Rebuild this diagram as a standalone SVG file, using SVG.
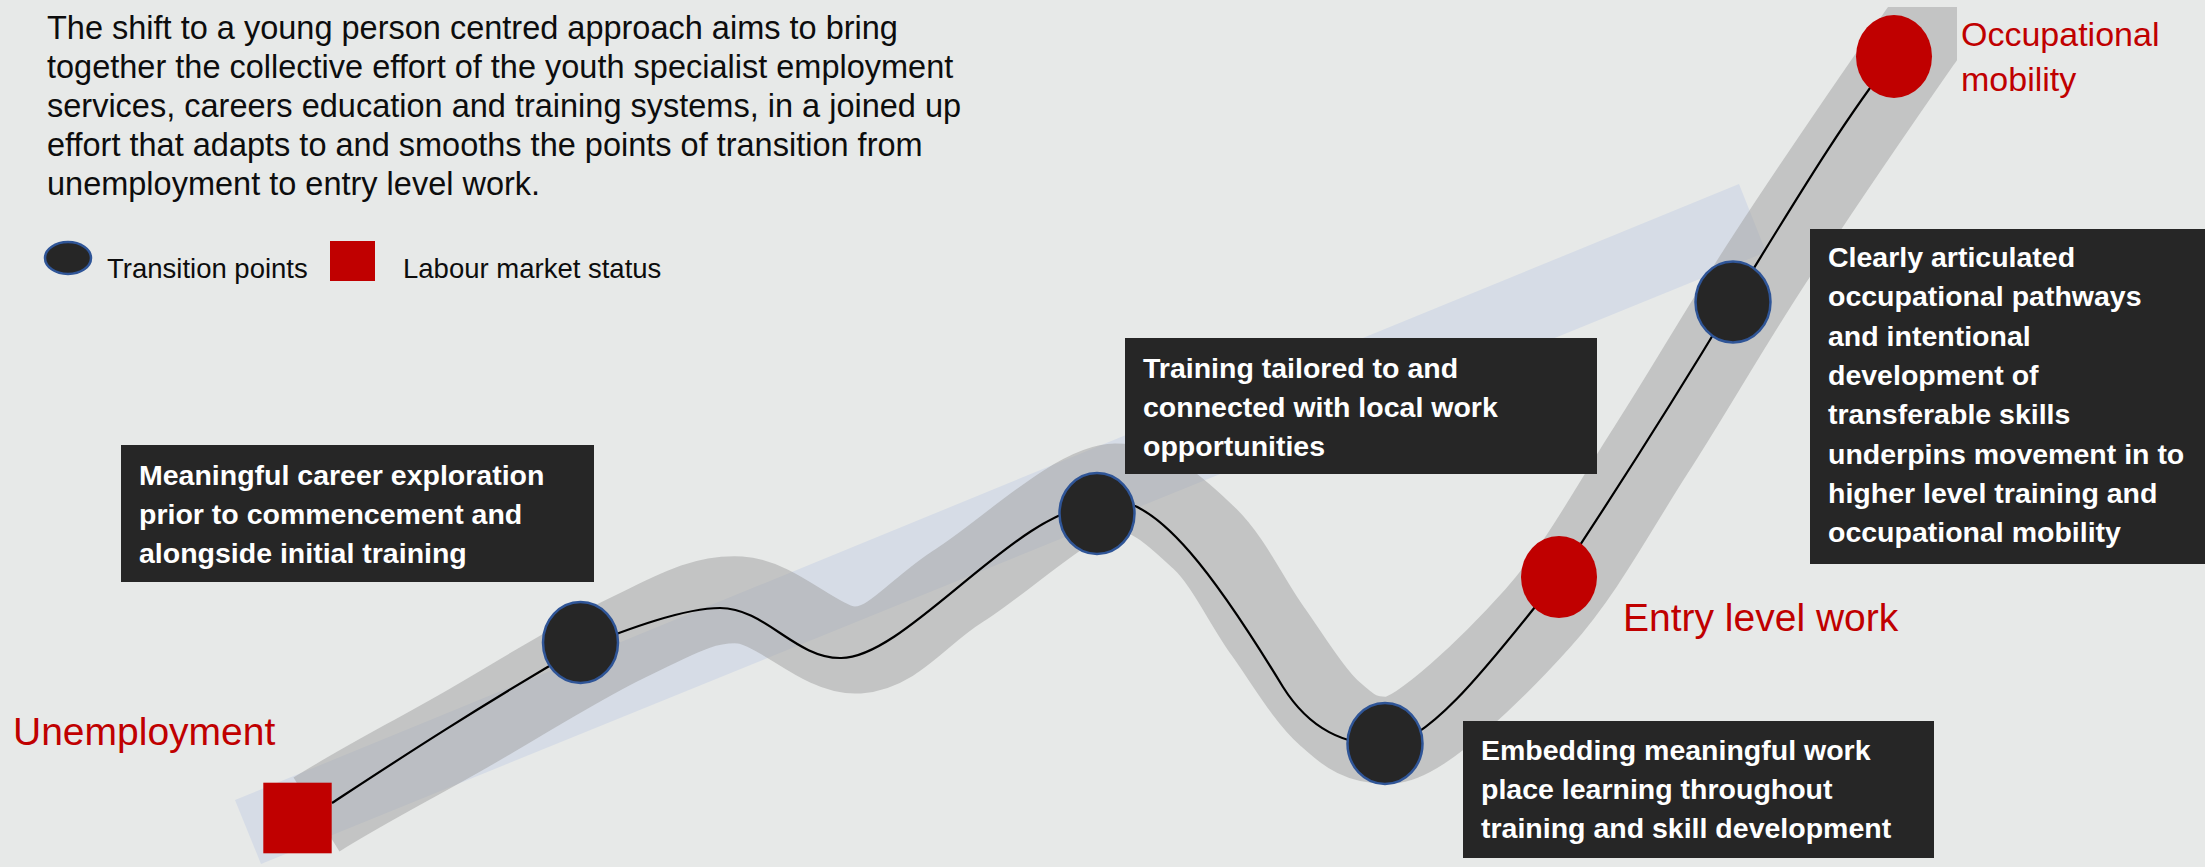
<svg xmlns="http://www.w3.org/2000/svg" width="2205" height="867" viewBox="0 0 2205 867">
<defs>
<style>
.intro{font-family:"Liberation Sans",Arial,sans-serif;font-size:32.5px;fill:#0d0d0d}
.legend{font-family:"Liberation Sans",Arial,sans-serif;font-size:27.5px;fill:#0d0d0d}
.status{font-family:"Liberation Sans",Arial,sans-serif;fill:#c00000}
.box{fill:#262626}
.boxtext{font-family:"Liberation Sans",Arial,sans-serif;font-size:28.5px;font-weight:bold;fill:#ffffff}
.tp{fill:#262626;stroke:#2f5597;stroke-width:2.5}
.lm{fill:#c00000}
</style>
<clipPath id="bandClip"><rect x="0" y="7" width="1957" height="860"/></clipPath>
</defs>
<rect x="0" y="0" width="2205" height="867" fill="#e7e9e8"/>

<g id="intro">
<text class="intro" x="47" y="39.3">The shift to a young person centred approach aims to bring</text>
<text class="intro" x="47" y="78.3">together the collective effort of the youth specialist employment</text>
<text class="intro" x="47" y="117.3">services, careers education and training systems, in a joined up</text>
<text class="intro" x="47" y="156.3">effort that adapts to and smooths the points of transition from</text>
<text class="intro" x="47" y="195.3">unemployment to entry level work.</text>
</g>

<g id="legend">
<ellipse class="tp" cx="68" cy="258" rx="23" ry="16"/>
<text class="legend" x="107" y="277.5">Transition points</text>
<rect class="lm" x="330" y="241" width="45" height="40"/>
<text class="legend" x="403" y="277.5">Labour market status</text>
</g>

<g id="track">
<polygon points="235,800 261,864 1766,252 1739,184" fill="#d6dce6"/>
<path clip-path="url(#bandClip)" fill="none" stroke="#a0a0a0" stroke-opacity="0.5" stroke-width="87" d="M316.5,814.5 C363.4,785.3 408.2,762.5 460,733 C511.8,703.5 580.3,660.2 627,638 C673.7,615.8 701.5,598 740,600 C778.5,602 821.3,652.5 858,650 C894.7,647.5 917.2,611.8 960,585 C1002.8,558.2 1078.3,487 1115,487 C1151.7,487 1177.7,513.5 1203,537 C1228.3,560.5 1246,600.7 1267,630 C1288,659.3 1308.3,694.7 1329,713 C1349.7,731.3 1361,741.7 1391,740 C1421,738.3 1494.7,666.3 1538,618 C1581.3,569.7 1612.5,509.7 1651,450 C1689.5,390.3 1724.5,328.3 1769,260 C1813.5,191.7 1882,91.7 1918,40 C1954,-11.7 1962.7,-20 1985,-50"/>
</g>

<g id="connectors">
<path fill="none" stroke="#000000" stroke-width="2.2" d="M332,803 C390,765 470,712 580,648 C630,628 685,608 720,608 C765,608 795,658 840,658 C905,660 1020,505 1097,506 C1150,475 1230,600 1283,687 C1310,730 1345,745 1385,745 C1430,745 1500,650 1559,577 C1610,500 1680,390 1733,302 C1790,210 1840,125 1894,56"/>
</g>

<g id="node-unemployment">
<rect class="lm" x="263.3" y="782.7" width="68.4" height="70.6"/>
<text class="status" x="13" y="745" font-size="39">Unemployment</text>
</g>

<g id="node-career-exploration">
<ellipse class="tp" cx="580.5" cy="642.5" rx="37.5" ry="40.5"/>
</g>

<g id="node-training-tailored">
<ellipse class="tp" cx="1097" cy="513.5" rx="37.5" ry="40.5"/>
</g>

<g id="node-work-place-learning">
<ellipse class="tp" cx="1385" cy="743.5" rx="37.5" ry="40.5"/>
</g>

<g id="node-entry-level-work">
<ellipse class="lm" cx="1559" cy="577" rx="38" ry="41"/>
<text class="status" x="1623" y="631" font-size="39">Entry level work</text>
</g>

<g id="node-occupational-pathways">
<ellipse class="tp" cx="1733" cy="302" rx="37.5" ry="40.5"/>
</g>

<g id="node-occupational-mobility">
<ellipse class="lm" cx="1894" cy="56.5" rx="38" ry="41.5"/>
<text class="status" x="1961" y="46" font-size="34">Occupational</text>
<text class="status" x="1961" y="91" font-size="34">mobility</text>
</g>

<g id="box-career-exploration">
<rect class="box" x="121" y="445" width="473" height="137"/>
<text class="boxtext" x="139" y="484.5">Meaningful career exploration</text>
<text class="boxtext" x="139" y="523.5">prior to commencement and</text>
<text class="boxtext" x="139" y="562.5">alongside initial training</text>
</g>

<g id="box-training-tailored">
<rect class="box" x="1125" y="338" width="472" height="136"/>
<text class="boxtext" x="1143" y="378">Training tailored to and</text>
<text class="boxtext" x="1143" y="416.5">connected with local work</text>
<text class="boxtext" x="1143" y="455.5">opportunities</text>
</g>

<g id="box-work-place-learning">
<rect class="box" x="1463" y="721" width="471" height="137"/>
<text class="boxtext" x="1481" y="760">Embedding meaningful work</text>
<text class="boxtext" x="1481" y="799">place learning throughout</text>
<text class="boxtext" x="1481" y="838">training and skill development</text>
</g>

<g id="box-occupational-pathways">
<rect class="box" x="1810" y="229" width="395" height="335"/>
<text class="boxtext" x="1828" y="267">Clearly articulated</text>
<text class="boxtext" x="1828" y="306.3">occupational pathways</text>
<text class="boxtext" x="1828" y="345.6">and intentional</text>
<text class="boxtext" x="1828" y="385">development of</text>
<text class="boxtext" x="1828" y="424.2">transferable skills</text>
<text class="boxtext" x="1828" y="463.5">underpins movement in to</text>
<text class="boxtext" x="1828" y="502.8">higher level training and</text>
<text class="boxtext" x="1828" y="542">occupational mobility</text>
</g>
</svg>
